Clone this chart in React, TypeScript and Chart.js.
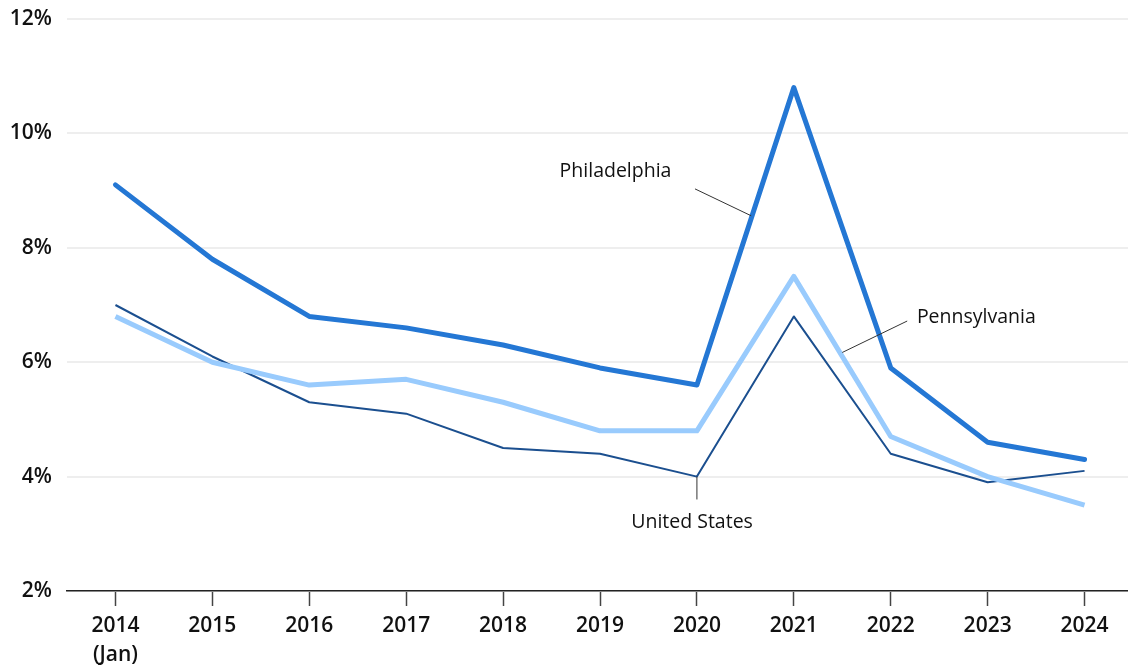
import React, { useEffect, useRef } from "react";
import { Chart, registerables } from "chart.js";

Chart.register(...registerables);

const yearLabels: (string | string[])[] = [
  ["2014", "(Jan)"], "2015", "2016", "2017", "2018", "2019", "2020", "2021", "2022", "2023", "2024",
];
const philadelphia = [9.1, 7.8, 6.8, 6.6, 6.3, 5.9, 5.6, 10.8, 5.9, 4.6, 4.3];
const pennsylvania = [6.8, 6.0, 5.6, 5.7, 5.3, 4.8, 4.8, 7.5, 4.7, 4.0, 3.5];
const unitedStates = [7.0, 6.1, 5.3, 5.1, 4.5, 4.4, 4.0, 6.8, 4.4, 3.9, 4.1];
const yTicks = [2, 4, 6, 8, 10, 12];

// Annotation labels in data units: [x index, y value]
const annotationNames = ["Philadelphia", "Pennsylvania", "United States"];
const annotationTextPos = [
  [5.16, 9.34],
  [8.27, 6.78],
  [5.95, 3.19],
];
const annotationTextAlign: CanvasTextAlign[] = ["center", "left", "center"];
const annotationLineFrom = [
  [5.98, 9.03],
  [8.17, 6.72],
  [6.0, 4.0],
];
const annotationLineTo = [
  [6.56, 8.56],
  [7.5, 6.17],
  [6.0, 3.6],
];

const FONT = "'Open Sans', 'DejaVu Sans', sans-serif";

const annotationPlugin = {
  id: "annots",
  afterDatasetsDraw(chart: any) {
    const { ctx, scales } = chart;
    const xs = scales.x;
    const ys = scales.y;
    ctx.save();
    ctx.strokeStyle = "#333333";
    ctx.lineWidth = 1;
    for (let i = 0; i < annotationNames.length; i++) {
      ctx.beginPath();
      ctx.moveTo(xs.getPixelForValue(annotationLineFrom[i][0]), ys.getPixelForValue(annotationLineFrom[i][1]));
      ctx.lineTo(xs.getPixelForValue(annotationLineTo[i][0]), ys.getPixelForValue(annotationLineTo[i][1]));
      ctx.stroke();
    }
    ctx.fillStyle = "#111111";
    ctx.font = `400 19.5px ${FONT}`;
    ctx.textBaseline = "middle";
    for (let i = 0; i < annotationNames.length; i++) {
      ctx.textAlign = annotationTextAlign[i];
      ctx.fillText(
        annotationNames[i],
        xs.getPixelForValue(annotationTextPos[i][0]),
        ys.getPixelForValue(annotationTextPos[i][1])
      );
    }
    ctx.restore();
  },
};

export default function App() {
  const ref = useRef<HTMLCanvasElement | null>(null);

  useEffect(() => {
    document.body.style.margin = "0";
    document.body.style.overflow = "hidden";
    if (!ref.current) return;
    const chart = new Chart(ref.current, {
      type: "line",
      data: {
        labels: yearLabels as any,
        datasets: [
          {
            label: "Philadelphia",
            data: philadelphia,
            borderColor: "#2477D4",
            borderWidth: 5,
            pointRadius: 0,
            borderCapStyle: "round",
            borderJoinStyle: "round",
            tension: 0,
            order: 1,
          },
          {
            label: "Pennsylvania",
            data: pennsylvania,
            borderColor: "#99CBFD",
            borderWidth: 5,
            pointRadius: 0,
            borderCapStyle: "butt",
            borderJoinStyle: "round",
            tension: 0,
            order: 2,
          },
          {
            label: "United States",
            data: unitedStates,
            borderColor: "#1B4F8F",
            borderWidth: 2,
            pointRadius: 0,
            borderJoinStyle: "round",
            tension: 0,
            order: 3,
          },
        ],
      },
      options: {
        animation: false,
        responsive: true,
        maintainAspectRatio: false,
        layout: { padding: { top: 19, right: 0, bottom: 0, left: 0 } },
        plugins: {
          legend: { display: false },
          tooltip: { enabled: false },
        },
        scales: {
          x: {
            type: "category",
            offset: true,
            grid: {
              drawOnChartArea: false,
              drawTicks: true,
              tickLength: 15,
              tickColor: "#444444",
              tickWidth: 1.5,
              offset: false,
            },
            border: { display: true, color: "#222222", width: 1.5 },
            ticks: {
              color: "#111111",
              font: { family: FONT, size: 21, weight: "600" as any, lineHeight: 1.35 },
              padding: 6,
              maxRotation: 0,
              autoSkip: false,
            },
            afterFit: (scale: any) => {
              scale.height = 77;
              scale.paddingLeft = 0;
              scale.paddingRight = 0;
            },
          },
          y: {
            min: 2,
            max: 12,
            afterBuildTicks: (scale: any) => {
              scale.ticks = yTicks.map((v) => ({ value: v }));
            },
            grid: {
              color: "#EEEEEE",
              lineWidth: 2,
              drawTicks: false,
            },
            border: { display: false },
            ticks: {
              color: "#111111",
              font: { family: FONT, size: 21, weight: "600" as any },
              padding: 15,
              callback: (v: any) => `${v}%`,
            },
            afterFit: (scale: any) => {
              scale.width = 67;
              scale.paddingTop = 0;
              scale.paddingBottom = 0;
            },
          },
        },
      },
      plugins: [annotationPlugin],
    });
    return () => chart.destroy();
  }, []);

  return (
    <div style={{ position: "absolute", left: 0, top: 0, width: 1133, height: 668 }}>
      <canvas ref={ref} />
    </div>
  );
}
